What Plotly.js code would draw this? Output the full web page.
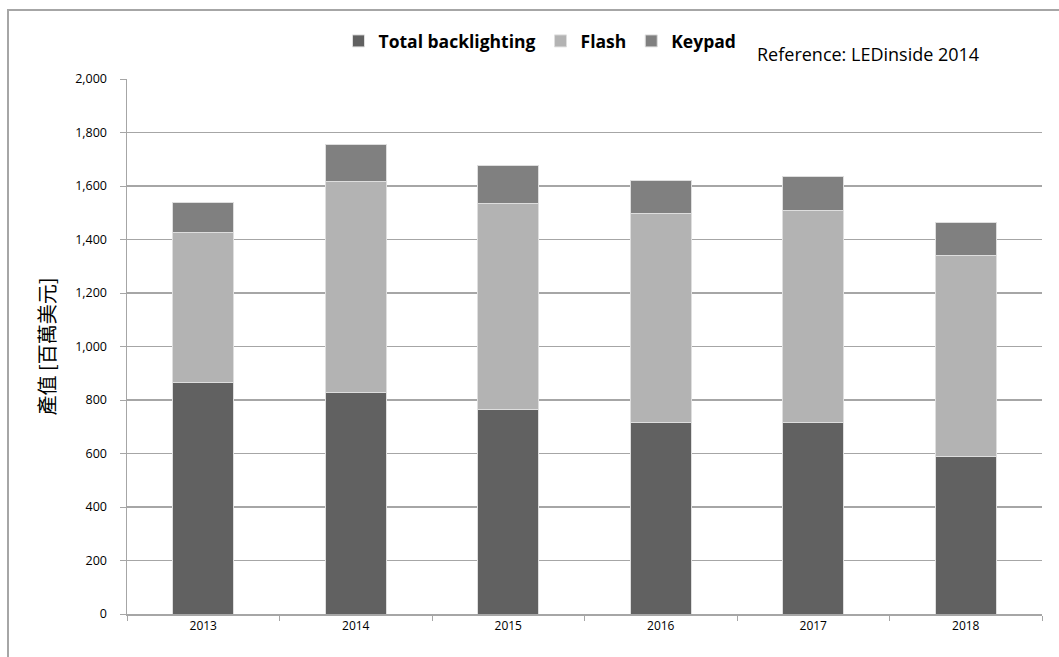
<!DOCTYPE html>
<html>
<head>
<meta charset="utf-8">
<script src="https://cdn.plot.ly/plotly-3.0.1.min.js"></script>
<style>html,body{margin:0;padding:0;background:#fff;}#chart{width:1059px;height:657px;}</style>
</head>
<body>
<div id="chart"></div>
<script>
const years = ['2013', '2014', '2015', '2016', '2017', '2018'];
const backlighting = [867, 827, 763, 717, 717, 588];
const flash = [561, 789, 772, 781, 792, 753];
const keypad = [109, 141, 140, 123, 126, 123];
const seriesNames = ['Total backlighting', 'Flash', 'Keypad'];
const yTickVals = [0, 200, 400, 600, 800, 1000, 1200, 1400, 1600, 1800, 2000];

const colors = ['#616161', '#b3b3b3', '#808080'];
const seriesData = [backlighting, flash, keypad];

const traces = seriesData.map((vals, i) => ({
  type: 'bar',
  name: seriesNames[i],
  x: years,
  y: vals,
  marker: {color: colors[i], line: {color: '#dedede', width: 1}},
  hoverinfo: 'x+y+name'
}));

const plotL = 127, plotR = 1042, plotT = 79, plotB = 614;
const pw = plotR - plotL, ph = plotB - plotT;
const px = v => (v - plotL) / pw;
const py = v => (plotB - v) / ph;

const layout = {
  width: 1059,
  height: 657,
  barmode: 'stack',
  bargap: 0.6,
  paper_bgcolor: '#ffffff',
  plot_bgcolor: '#ffffff',
  margin: {l: plotL, r: 1059 - plotR, t: plotT, b: 657 - plotB},
  font: {family: '"Open Sans", Lato, sans-serif', size: 12, color: '#000'},
  showlegend: true,
  legend: {
    orientation: 'h',
    x: px(540), xanchor: 'center',
    y: py(41), yanchor: 'middle',
    font: {family: '"Open Sans", Lato, sans-serif', size: 17.5, color: '#000', weight: 'bold'},
    itemwidth: 30,
    traceorder: 'normal',
    bgcolor: 'rgba(0,0,0,0)'
  },
  xaxis: {
    type: 'category',
    showline: true,
    linecolor: '#a6a6a6',
    linewidth: 1.5,
    ticks: 'outside',
    ticklen: 5,
    tickcolor: '#a6a6a6',
    tickson: 'boundaries',
    showgrid: false,
    tickfont: {family: '"Open Sans", Lato, sans-serif', size: 12, color: '#000'},
    fixedrange: true
  },
  yaxis: {
    range: [0, 2000],
    tickvals: yTickVals,
    ticktext: yTickVals.map(v => v.toLocaleString('en-US')),
    showline: true,
    linecolor: '#a6a6a6',
    linewidth: 1.5,
    ticks: 'outside',
    ticklen: 6,
    tickcolor: '#a6a6a6',
    showgrid: true,
    gridcolor: '#a6a6a6',
    gridwidth: 1.5,
    zeroline: false,
    ticklabelstandoff: 10,
    tickfont: {family: '"Open Sans", Lato, sans-serif', size: 12.5, color: '#000'},
    title: {
      text: '產值 [百萬美元]',
      font: {family: '"Noto Sans CJK TC", sans-serif', size: 20, color: '#000'},
      standoff: 14
    },
    fixedrange: true
  },
  annotations: [{
    xref: 'paper', yref: 'paper',
    x: px(755), y: py(54),
    xanchor: 'left', yanchor: 'middle',
    text: 'Reference: LEDinside 2014',
    showarrow: false,
    font: {family: '"Open Sans", Lato, sans-serif', size: 18, color: '#000'}
  }],
  shapes: [{
    type: 'path',
    xref: 'paper', yref: 'paper',
    path: 'M ' + px(8) + ' ' + py(660) + ' L ' + px(8) + ' ' + py(10) + ' L ' + px(1065) + ' ' + py(10),
    line: {color: '#a6a6a6', width: 2},
    layer: 'below'
  }]
};

Plotly.newPlot('chart', traces, layout, {displayModeBar: false, staticPlot: true});
</script>
</body>
</html>
